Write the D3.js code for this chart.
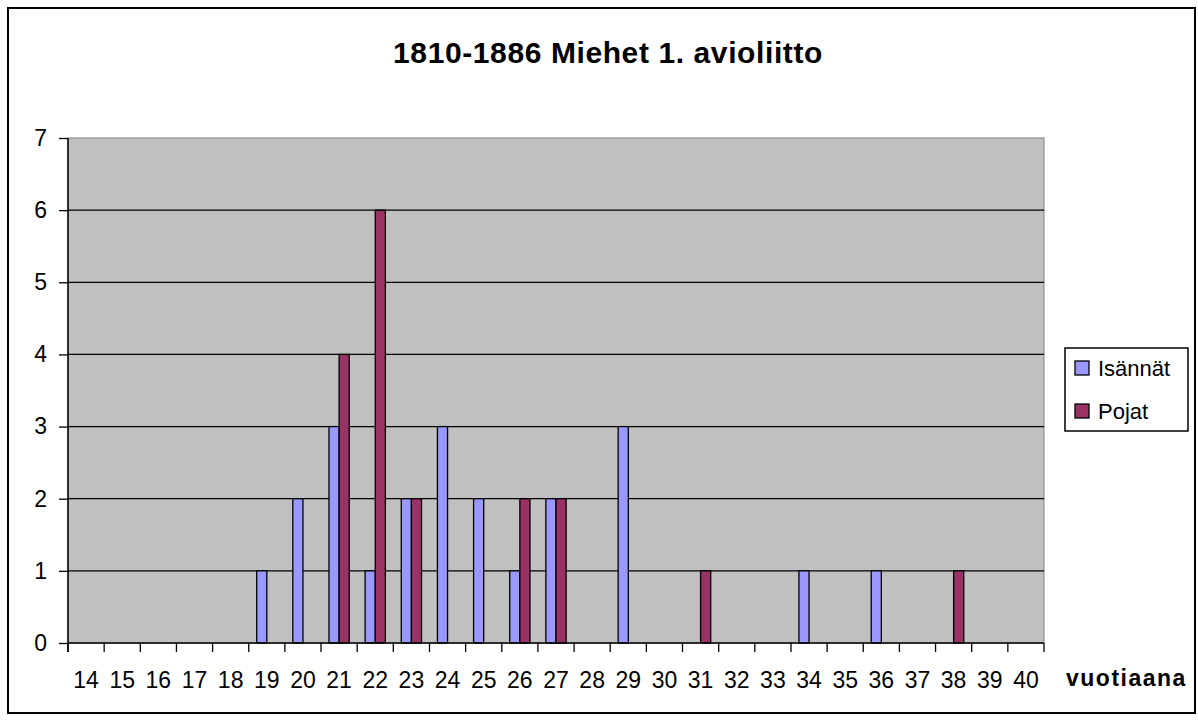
<!DOCTYPE html>
<html>
<head>
<meta charset="utf-8">
<script src="https://cdn.jsdelivr.net/npm/d3@7"></script>
<style>
  body { margin: 0; background: #fff; }
  text { font-family: "Liberation Sans", Arial, sans-serif; }
</style>
</head>
<body>
<div id="chart"></div>
<script>
  var w = 1198,
      h = 722;

  // categories (age at first marriage)
  var ages = ["14","15","16","17","18","19","20","21","22","23","24","25","26","27",
              "28","29","30","31","32","33","34","35","36","37","38","39","40"];
  var seriesNames = ["Isännät", "Pojat"];
  var seriesColors = ["#9999FF", "#993366"];
  var isannat = [0,0,0,0,0,1,2,3,1,2,3,2,1,2,0,3,0,0,0,0,1,0,1,0,0,0,0];
  var pojat   = [0,0,0,0,0,0,0,4,6,2,0,0,2,2,0,0,0,1,0,0,0,0,0,0,1,0,0];
  var yTicks = [0,1,2,3,4,5,6,7];

  var plotLeft = 68, plotRight = 1044, plotTop = 138, plotBottom = 643;

  var svg = d3.select("#chart").append("svg");
  svg.attr("width", w)
      .attr("height", h);

  // outer chart frame
  svg.append("rect")
    .attr("x", 8).attr("y", 8)
    .attr("width", 1187).attr("height", 705)
    .attr("fill", "#fff")
    .attr("stroke", "#000")
    .attr("stroke-width", 2);

  var xCat = d3.scaleBand().domain(ages).range([plotLeft, plotRight]);
  var x0 = d3.scaleBand().domain(ages).range([plotLeft, plotRight])
      .paddingInner(0.44).paddingOuter(0.22);
  var x1 = d3.scaleBand().domain(seriesNames).range([0, x0.bandwidth()]);
  var y = d3.scaleLinear().domain([0, 7]).range([plotBottom, plotTop]);

  // plot area
  svg.append("rect")
    .attr("x", plotLeft).attr("y", plotTop)
    .attr("width", plotRight - plotLeft).attr("height", plotBottom - plotTop)
    .attr("fill", "#C0C0C0")
    .attr("stroke", "#808080")
    .attr("stroke-width", 1);

  // gridlines
  svg.append("g").selectAll("line")
    .data(yTicks.filter(function(d){ return d > 0 && d < 7; }))
    .enter().append("line")
    .attr("x1", plotLeft).attr("x2", plotRight)
    .attr("y1", function(d){ return y(d); })
    .attr("y2", function(d){ return y(d); })
    .attr("stroke", "#000")
    .attr("stroke-width", 1.3);

  // bars
  var rows = ages.map(function(a, i){
    return {age: a, values: [isannat[i], pojat[i]]};
  });

  var groups = svg.append("g").selectAll("g")
    .data(rows)
    .enter().append("g")
    .attr("transform", function(d){ return "translate(" + x0(d.age) + ",0)"; });

  groups.selectAll("rect")
    .data(function(d){
      return d.values.map(function(v, j){ return {name: seriesNames[j], value: v, color: seriesColors[j]}; })
        .filter(function(e){ return e.value > 0; });
    })
    .enter().append("rect")
    .attr("x", function(d){ return x1(d.name); })
    .attr("y", function(d){ return y(d.value); })
    .attr("width", x1.bandwidth())
    .attr("height", function(d){ return y(0) - y(d.value); })
    .attr("fill", function(d){ return d.color; })
    .attr("stroke", "#000")
    .attr("stroke-width", 1.3);

  // y axis
  var yAxis = svg.append("g")
    .attr("transform", "translate(" + plotLeft + ",0)")
    .call(d3.axisLeft(y).tickValues(yTicks).tickFormat(d3.format("d"))
      .tickSize(9).tickPadding(12));
  yAxis.select(".domain").remove();
  yAxis.selectAll(".tick line").attr("stroke", "#000").attr("stroke-width", 1.3);
  yAxis.selectAll("text")
    .attr("font-size", "23px")
    .attr("fill", "#000")
    .attr("font-family", "Liberation Sans, Arial, sans-serif");

  svg.append("line")
    .attr("x1", plotLeft).attr("x2", plotLeft)
    .attr("y1", plotTop).attr("y2", plotBottom + 9)
    .attr("stroke", "#000").attr("stroke-width", 1.5);

  // x axis: labels centred, ticks on category boundaries
  var xAxis = svg.append("g")
    .attr("transform", "translate(0," + plotBottom + ")")
    .call(d3.axisBottom(xCat).tickSize(0).tickPadding(29));
  xAxis.select(".domain").remove();
  xAxis.selectAll("text")
    .attr("font-size", "23px")
    .attr("fill", "#000")
    .attr("font-family", "Liberation Sans, Arial, sans-serif");

  svg.append("line")
    .attr("x1", plotLeft).attr("x2", plotRight)
    .attr("y1", plotBottom).attr("y2", plotBottom)
    .attr("stroke", "#000").attr("stroke-width", 1.5);

  svg.append("g").selectAll("line")
    .data(ages.concat(["end"]))
    .enter().append("line")
    .attr("x1", function(d){ return d === "end" ? plotRight : xCat(d); })
    .attr("x2", function(d){ return d === "end" ? plotRight : xCat(d); })
    .attr("y1", plotBottom).attr("y2", plotBottom + 9)
    .attr("stroke", "#000").attr("stroke-width", 1.3);

  // title
  svg.append("text")
    .attr("x", 608).attr("y", 63)
    .attr("text-anchor", "middle")
    .attr("font-size", "30px")
    .attr("font-weight", "bold")
    .attr("letter-spacing", "0.6px")
    .text("1810-1886 Miehet 1. avioliitto");

  // axis title
  svg.append("text")
    .attr("x", 1066).attr("y", 686)
    .attr("font-size", "23px")
    .attr("font-weight", "bold")
    .attr("letter-spacing", "1.5px")
    .text("vuotiaana");

  // legend
  var legend = svg.append("g");
  legend.append("rect")
    .attr("x", 1065).attr("y", 348)
    .attr("width", 123).attr("height", 83)
    .attr("fill", "#fff")
    .attr("stroke", "#000")
    .attr("stroke-width", 1.5);

  var items = legend.selectAll("g.item")
    .data(seriesNames)
    .enter().append("g")
    .attr("class", "item")
    .attr("transform", function(d, i){ return "translate(1075," + (368 + i * 43) + ")"; });

  items.append("rect")
    .attr("x", 0).attr("y", -7)
    .attr("width", 14).attr("height", 14)
    .attr("fill", function(d, i){ return seriesColors[i]; })
    .attr("stroke", "#000")
    .attr("stroke-width", 1.3);

  items.append("text")
    .attr("x", 23).attr("y", 8)
    .attr("font-size", "22px")
    .text(function(d){ return d; });
</script>
</body>
</html>
